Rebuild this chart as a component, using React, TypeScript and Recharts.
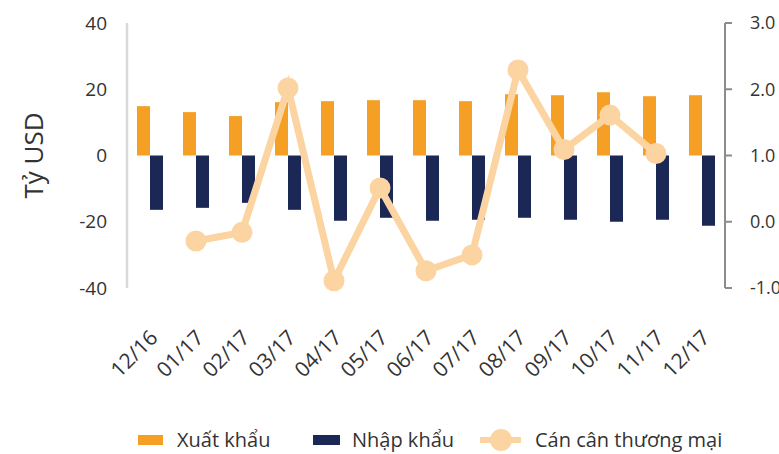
import {
  Bar,
  ComposedChart,
  Label,
  Legend,
  Line,
  XAxis,
  YAxis,
} from 'recharts';

const months = [
  '12/16', '01/17', '02/17', '03/17', '04/17', '05/17', '06/17',
  '07/17', '08/17', '09/17', '10/17', '11/17', '12/17',
];
const exportValues = [14.9, 13.1, 11.9, 16.1, 16.4, 16.7, 16.7, 16.4, 18.5, 18.2, 19.1, 17.9, 18.2];
const importValues = [-16.4, -15.8, -14.3, -16.4, -19.7, -18.8, -19.7, -19.4, -18.8, -19.4, -20.0, -19.4, -21.2];
const balanceValues = [null, -0.29, -0.16, 2.02, -0.89, 0.51, -0.74, -0.5, 2.29, 1.09, 1.61, 1.03, null];

const leftTicks = [-40, -20, 0, 20, 40];
const rightTicks = [-1, 0, 1, 2, 3];

const ORANGE = '#F5A024';
const NAVY = '#1B2755';
const PEACH = '#FBD4A2';
const TEXT = '#333333';
const FONT = '"Open Sans", sans-serif';

const data = months.map((month, i) => ({
  month,
  xuat: exportValues[i],
  nhap: importValues[i],
  canCan: balanceValues[i],
}));

function MonthTick({ x, payload }: any) {
  return (
    <g transform={`translate(${x + 9},339)`}>
      <text
        x={0}
        y={0}
        transform="rotate(-45)"
        textAnchor="end"
        fill={TEXT}
        fontSize={21}
        fontFamily={FONT}
      >
        {payload.value}
      </text>
    </g>
  );
}

function LegendBox() {
  const textStyle = {
    position: 'absolute' as const,
    top: 9,
    fontSize: 20,
    fontFamily: FONT,
    color: TEXT,
    lineHeight: '26px',
    whiteSpace: 'nowrap' as const,
  };
  return (
    <div style={{ position: 'relative', width: 779, height: 44 }}>
      <div style={{ position: 'absolute', left: 138, top: 17, width: 25, height: 10, background: ORANGE }} />
      <span style={{ ...textStyle, left: 177 }}>Xuất khẩu</span>
      <div style={{ position: 'absolute', left: 313, top: 17, width: 27, height: 10, background: NAVY }} />
      <span style={{ ...textStyle, left: 352 }}>Nhập khẩu</span>
      <div style={{ position: 'absolute', left: 480, top: 19, width: 41, height: 6, background: PEACH }} />
      <div style={{ position: 'absolute', left: 490, top: 11, width: 22, height: 22, borderRadius: 11, background: PEACH }} />
      <span style={{ ...textStyle, left: 535 }}>Cán cân thương mại</span>
    </div>
  );
}

export default function App() {
  return (
    <div style={{ position: 'absolute', left: 0, top: 0, width: 779, height: 454, background: '#fff' }}>
      <ComposedChart
        width={779}
        height={454}
        data={data}
        margin={{ top: 23, right: 0, left: 0, bottom: 0 }}
        barGap={0}
      >
        <XAxis
          dataKey="month"
          xAxisId="x"
          height={166}
          axisLine={false}
          tickLine={false}
          interval={0}
          tick={<MonthTick />}
        />
        <YAxis
          yAxisId="left"
          width={127}
          domain={[-40, 40]}
          ticks={leftTicks}
          axisLine={{ stroke: '#D9D9D9', strokeWidth: 2.5 }}
          tickLine={false}
          tickSize={6}
          tickMargin={14}
          tick={{ fill: TEXT, fontSize: 19, fontFamily: FONT }}
        >
          <Label
            value="Tỷ USD"
            angle={-90}
            position="center"
            dx={-30}
            style={{ fill: TEXT, fontSize: 26, fontFamily: FONT }}
          />
        </YAxis>
        <YAxis
          yAxisId="right"
          orientation="right"
          width={54}
          domain={[-1, 3]}
          ticks={rightTicks}
          tickFormatter={(v: number) => v.toFixed(1)}
          axisLine={{ stroke: '#8C8C8C', strokeWidth: 2 }}
          tickLine={{ stroke: '#8C8C8C', strokeWidth: 2 }}
          tickSize={7}
          tickMargin={18}
          tick={{ fill: TEXT, fontSize: 18, fontFamily: FONT }}
        />
        <Bar
          dataKey="xuat"
          name="Xuất khẩu"
          xAxisId="x"
          yAxisId="left"
          fill={ORANGE}
          barSize={13}
          isAnimationActive={false}
        />
        <Bar
          dataKey="nhap"
          name="Nhập khẩu"
          xAxisId="x"
          yAxisId="left"
          fill={NAVY}
          barSize={13}
          isAnimationActive={false}
        />
        <Line
          dataKey="canCan"
          name="Cán cân thương mại"
          xAxisId="x"
          yAxisId="right"
          type="linear"
          stroke={PEACH}
          strokeWidth={7}
          dot={{ r: 10.5, fill: PEACH, stroke: 'none' }}
          activeDot={false}
          isAnimationActive={false}
        />
        <Legend
          verticalAlign="middle"
          wrapperStyle={{ left: 0, top: 418, width: 779, height: 44 }}
          content={() => <LegendBox />}
        />
      </ComposedChart>
    </div>
  );
}
